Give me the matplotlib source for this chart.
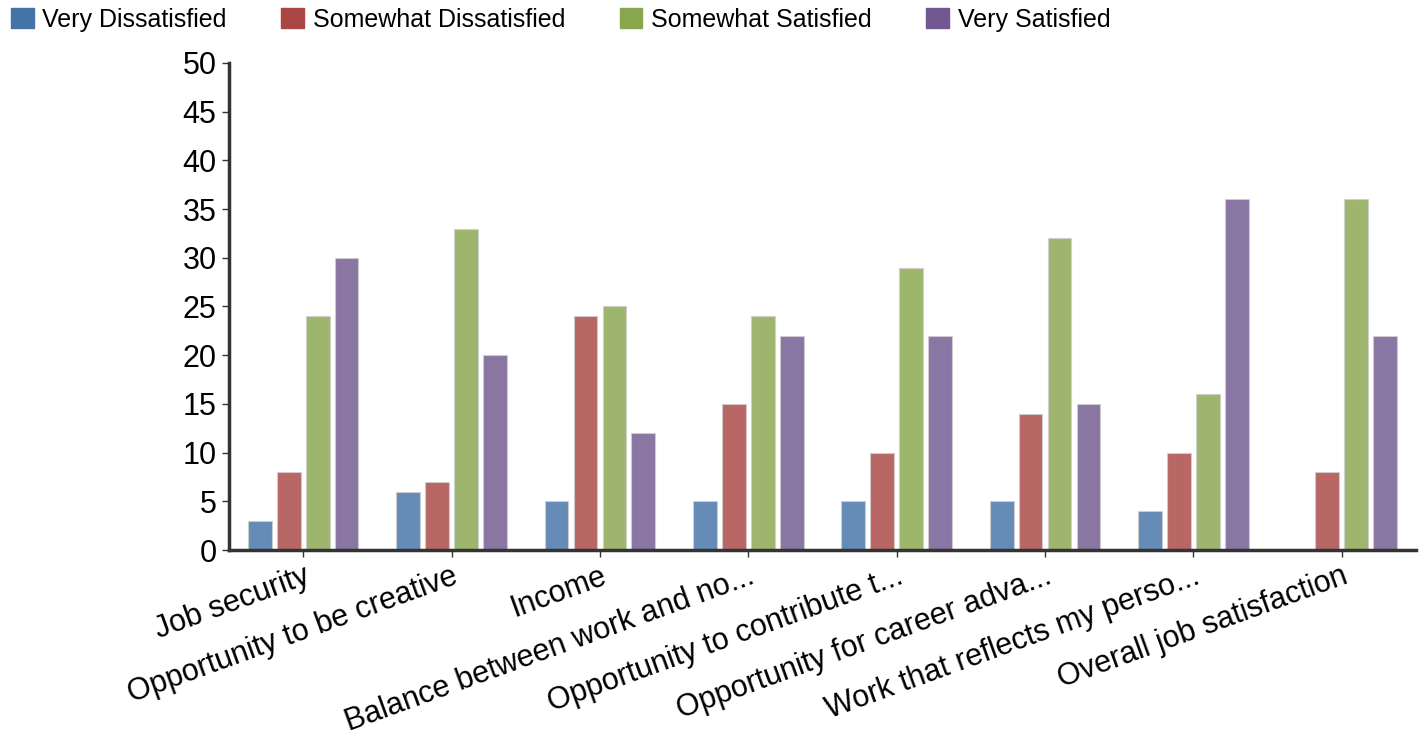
import matplotlib
matplotlib.use("Agg")
import matplotlib.pyplot as plt
import numpy as np

plt.rcParams['font.family'] = ['Liberation Sans', 'DejaVu Sans']

categories = ["Job security", "Opportunity to be creative", "Income",
              "Balance between work and no...", "Opportunity to contribute t...",
              "Opportunity for career adva...", "Work that reflects my perso...",
              "Overall job satisfaction"]
series_names = ["Very Dissatisfied", "Somewhat Dissatisfied", "Somewhat Satisfied", "Very Satisfied"]
very_dissatisfied = [3, 6, 5, 5, 5, 5, 4, 0]
somewhat_dissatisfied = [8, 7, 24, 15, 10, 14, 10, 8]
somewhat_satisfied = [24, 33, 25, 24, 29, 32, 16, 36]
very_satisfied = [30, 20, 12, 22, 22, 15, 36, 22]
y_ticks = [0, 5, 10, 15, 20, 25, 30, 35, 40, 45, 50]

series = [very_dissatisfied, somewhat_dissatisfied, somewhat_satisfied, very_satisfied]
colors = ["#4572A7", "#AA4643", "#89A54E", "#71588F"]

fig = plt.figure(figsize=(14.25, 7.4), dpi=100)
ax = fig.add_axes([229/1425, 1-550/740, (1416-229)/1425, (550-63)/740])

x = np.arange(len(categories))
step = 0.195
width = 0.16
handles = []
for i, (vals, c) in enumerate(zip(series, colors)):
    offs = (i - 1.5) * step
    ax.bar(x + offs, vals, width=width, color=c, alpha=0.82,
           edgecolor="#d0d0d0", linewidth=0.8, zorder=2)
    handles.append(plt.Rectangle((0, 0), 1, 1, color=c))

ax.set_xlim(-0.5, len(categories) - 0.5)
ax.set_ylim(0, 50)
ax.set_yticks(y_ticks)
ax.set_yticklabels([str(v) for v in y_ticks], fontsize=22)
ax.set_xticks(x)
ax.set_xticklabels(categories, fontsize=22, rotation=20, ha='right',
                   rotation_mode='anchor')

for s in ['top', 'right']:
    ax.spines[s].set_visible(False)
for s in ['left', 'bottom']:
    ax.spines[s].set_linewidth(2.5)
    ax.spines[s].set_color('#333333')
ax.tick_params(axis='y', length=5, width=1, color='#333333', pad=4)
ax.tick_params(axis='x', length=5, width=1, color='#333333', pad=3)

fig.legend(handles, series_names, loc='center left',
           bbox_to_anchor=(11/1425, 1-20/740), ncol=4, frameon=False,
           fontsize=18, handlelength=0.9, handleheight=0.85,
           handletextpad=0.36, columnspacing=2.18, borderpad=0,
           borderaxespad=0)

fig.savefig("out.png", dpi=100)
